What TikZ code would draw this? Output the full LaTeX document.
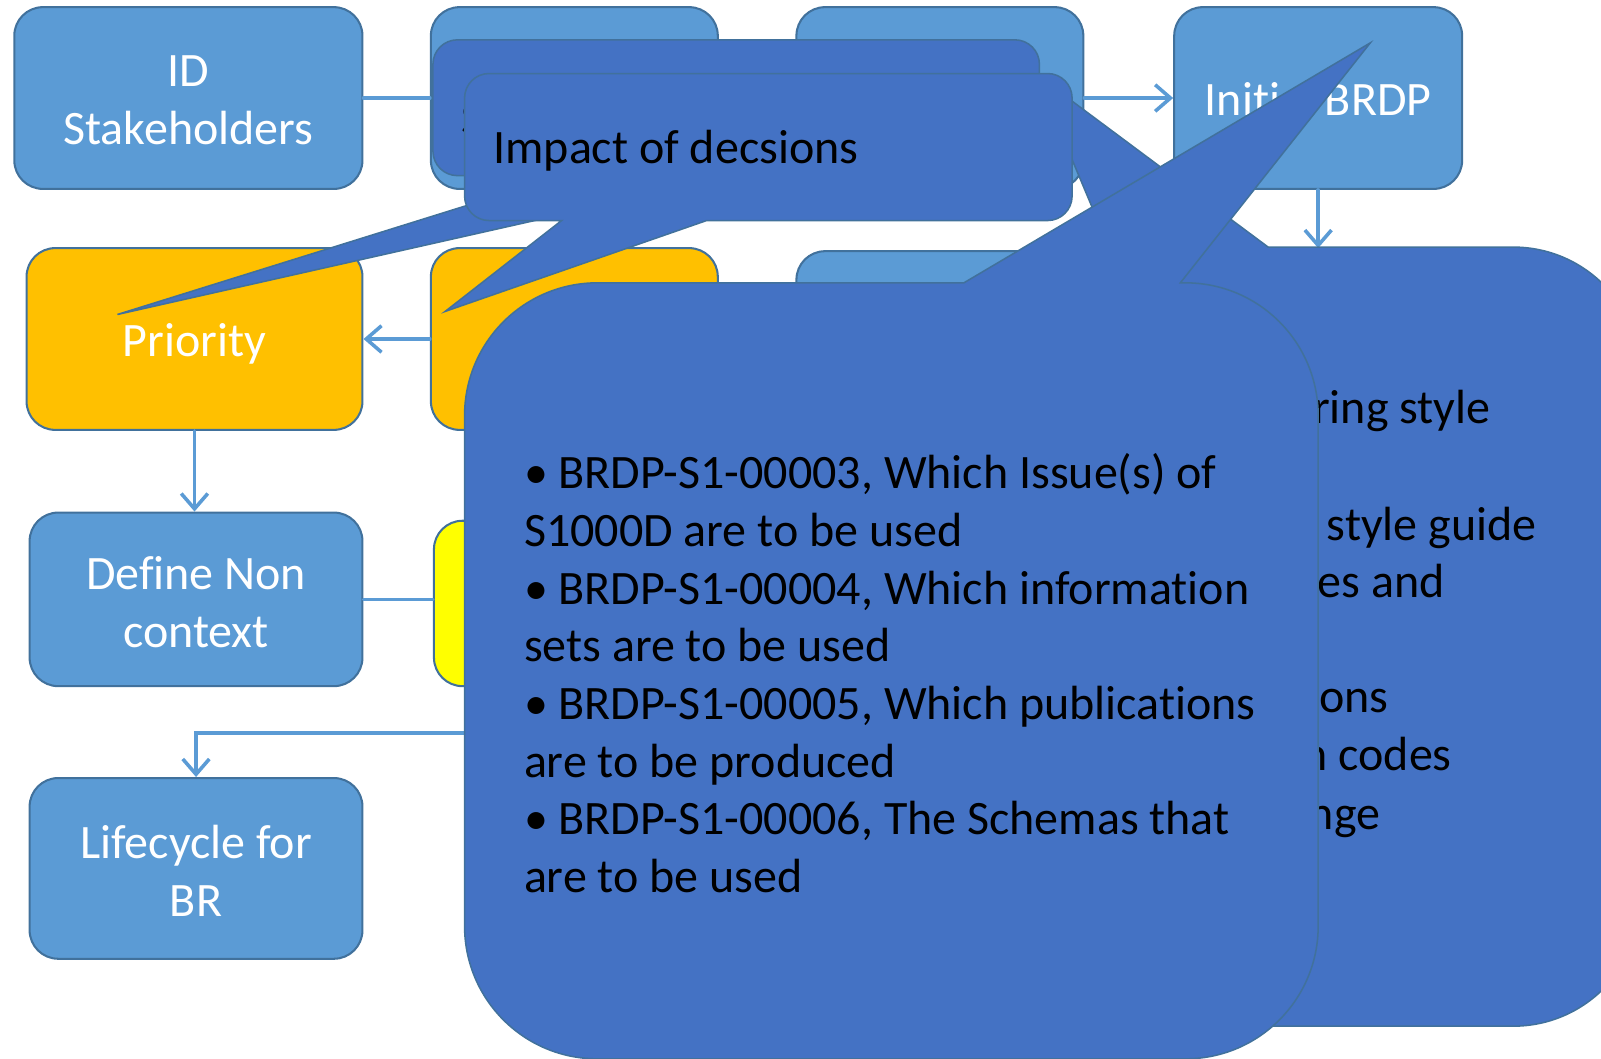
\documentclass[tikz,border=0pt]{standalone}
\usepackage{fontspec}
\setmainfont{Carlito}[Ligatures=NoCommon]
\usetikzlibrary{arrows.meta}

\definecolor{boxblue}{HTML}{5B9BD5}
\definecolor{boxline}{HTML}{41719C}
\definecolor{prioorange}{HTML}{FFC000}
\definecolor{nonyellow}{HTML}{FFFF00}
\definecolor{bubblefill}{HTML}{4472C4}

\tikzset{
  stepbox/.style={draw=boxline, line width=2pt, fill=boxblue, rounded corners=28pt, inner sep=0pt},
  boxtext/.style={text=white, align=center, inner sep=0pt, yshift=-2.5pt},
  bubble/.style={draw=boxline, line width=1.5pt, fill=bubblefill},
  flow/.style={draw=boxblue, line width=3.5pt, line cap=round},
  flowarrow/.style={flow, -{Straight Barb[length=15pt,width=26pt]}},
}

\begin{document}
\begin{tikzpicture}[x=1pt,y=-1pt,font=\fontsize{47}{56.5}\selectfont]
\clip (0,0) rectangle (1568,1037);

% process boxes
\node[stepbox, minimum width=341pt, minimum height=178pt,
  label={[boxtext]center:ID\\Stakeholders}] (idsh) at (184.5,96) {};
\node[stepbox, minimum width=281pt, minimum height=178pt] (stepb) at (562.5,96) {};
\node[stepbox, minimum width=281pt, minimum height=178pt] (stepc) at (920.5,96) {};
\node[stepbox, minimum width=282pt, minimum height=178pt,
  label={[boxtext, yshift=1.5pt]center:Initial BRDP}] (initbrdp) at (1291,96) {};
\node[stepbox, fill=prioorange, minimum width=329pt, minimum height=178pt,
  label={[boxtext, yshift=-2.5pt]center:Priority}] (priority) at (190.5,332) {};
\node[stepbox, fill=prioorange, minimum width=281pt, minimum height=178pt] (rank) at (562.5,332) {};
\node[stepbox, minimum width=281pt, minimum height=175pt] (stepg) at (920.5,333.5) {};
\node[stepbox, minimum width=326pt, minimum height=170pt,
  label={[boxtext]center:Define Non\\context}] (define) at (192,587) {};
\node[stepbox, fill=nonyellow, minimum width=278pt, minimum height=162pt] (nonctx) at (564,591) {};
\node[stepbox, minimum width=326pt, minimum height=177pt,
  label={[boxtext]center:Lifecycle for\\BR}] (lifecycle) at (192,850.5) {};

% connectors
\coordinate (brdpnext) at (1291,243);
\draw[flow] (idsh.east) -- (stepb.west);
\draw[flowarrow] (stepc.east) -- (initbrdp.west);
\draw[flowarrow] (initbrdp.south) -- (brdpnext);
\draw[flowarrow] (rank.west) -- (priority.east);
\draw[flowarrow] (priority.south) -- (priority.south |- define.north);
\draw[flow] (define.east) -- (define.east -| nonctx.west);
\draw[flowarrow] (nonctx.south) -- ++(0,45) -| (lifecycle.north);

% callouts
\path[bubble] (1055,242) -- (1086,242) -- (1015,73) -- (1242,242) -- (1482,242)
  arc[start angle=90,end angle=0,radius=125pt] -- (1607,880)
  arc[start angle=0,end angle=-90,radius=125pt] -- (1055,1005)
  arc[start angle=-90,end angle=-180,radius=125pt] -- (930,367)
  arc[start angle=180,end angle=90,radius=125pt] -- cycle;
\foreach \txt/\xe/\yb [count=\i] in {ring style/1460/415, style guide/1505/529,
    es and/1415/585, ons/1360/698, n codes/1422/755, nge/1352/812}
  \node[anchor=base east, inner sep=0pt] (rtxt\i) at (\xe,\yb) {\txt};

\path[bubble] (448,39) -- (994,39) arc[start angle=90,end angle=0,radius=24pt]
  -- (1018,148) arc[start angle=0,end angle=-90,radius=24pt]
  -- (719,172) -- (115,308) -- (551,172)
  -- (448,172) arc[start angle=-90,end angle=-180,radius=24pt]
  -- (424,63) arc[start angle=180,end angle=90,radius=24pt] -- cycle;
\node[anchor=base west, inner sep=0pt] (midtxt) at (452,132) {S};

\path[bubble] (479,72) -- (1026,72) arc[start angle=90,end angle=0,radius=24pt]
  -- (1050,192) arc[start angle=0,end angle=-90,radius=24pt]
  -- (692,216) -- (436,305) -- (550,216)
  -- (479,216) arc[start angle=-90,end angle=-180,radius=24pt]
  -- (455,96) arc[start angle=180,end angle=90,radius=24pt] -- cycle;
\node[anchor=base west, inner sep=0pt] (impact) at (483,160.5) {Impact of decsions};

\path[bubble] (585,277) -- (944,277) -- (1342,42) -- (1156,277) -- (1161,277)
  arc[start angle=90,end angle=0,radius=130pt] -- (1291,907)
  arc[start angle=0,end angle=-90,radius=130pt] -- (585,1037)
  arc[start angle=-90,end angle=-180,radius=130pt] -- (455,407)
  arc[start angle=180,end angle=90,radius=130pt] -- cycle;
\node[anchor=north west, inner sep=0pt, align=left] (decisions) at (513,444)
  {• BRDP-S1-00003, Which Issue(s) of\\S1000D are to be used\\
   • BRDP-S1-00004, Which information\\sets are to be used\\
   • BRDP-S1-00005, Which publications\\are to be produced\\
   • BRDP-S1-00006, The Schemas that\\are to be used};

\end{tikzpicture}
\end{document}
